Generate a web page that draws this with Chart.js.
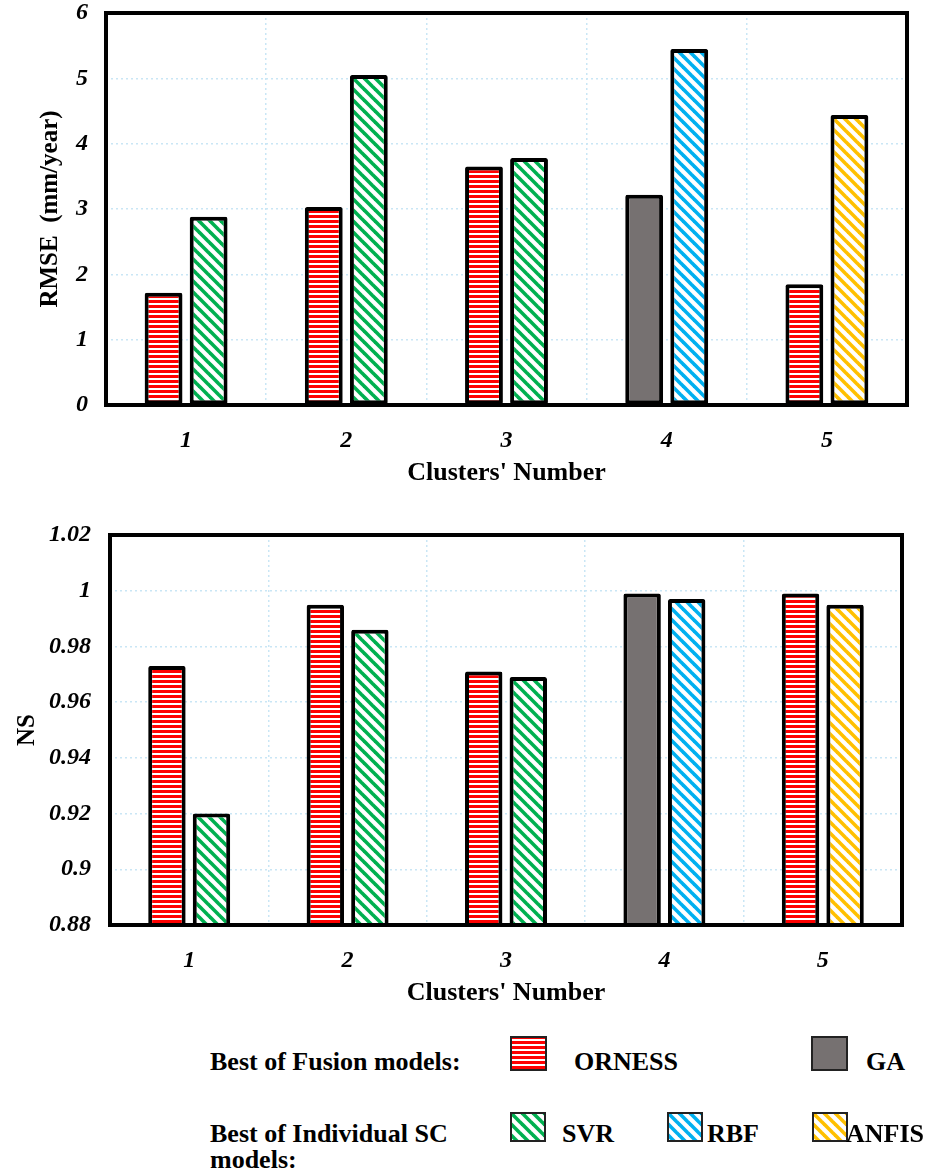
<!DOCTYPE html>
<html lang="en">
<head>
<meta charset="UTF-8">
<title>RMSE and NS by cluster</title>
<script src="https://cdn.jsdelivr.net/npm/chart.js"></script>
<style>
  body { margin: 0; background: #fff; font-family: "Liberation Serif", "Times New Roman", serif; }
  #page { position: relative; width: 935px; height: 1175px; }
  canvas.chart { position: absolute; left: 0; }
  .lg { position: absolute; font-weight: bold; font-size: 26px; line-height: 26px; color: #000; white-space: nowrap; }
  .sw { position: absolute; }
</style>
</head>
<body>
<div id="page">
  <canvas id="rmseChart" class="chart" width="935" height="490" style="top:0"></canvas>
  <canvas id="nsChart" class="chart" width="935" height="490" style="top:520px"></canvas>

  <div class="lg" style="left:210px;top:1049px">Best of Fusion models:</div>
  <canvas class="sw" id="swORNESS" width="37" height="35" style="left:510px;top:1036px"></canvas>
  <div class="lg" style="left:574px;top:1049px">ORNESS</div>
  <canvas class="sw" id="swGA" width="37" height="35" style="left:811px;top:1036px"></canvas>
  <div class="lg" style="left:866px;top:1049px">GA</div>

  <div class="lg" style="left:210px;top:1121px">Best of Individual SC<br>models:</div>
  <canvas class="sw" id="swSVR" width="36" height="30" style="left:510px;top:1112px"></canvas>
  <div class="lg" style="left:562px;top:1121px">SVR</div>
  <canvas class="sw" id="swRBF" width="36" height="30" style="left:667px;top:1112px"></canvas>
  <div class="lg" style="left:707px;top:1121px">RBF</div>
  <canvas class="sw" id="swANFIS" width="36" height="30" style="left:812px;top:1112px"></canvas>
  <div class="lg" style="left:846px;top:1121px">ANFIS</div>
</div>

<script>
// data
const clusters = ['1', '2', '3', '4', '5'];
const fusionModel = ['ORNESS', 'ORNESS', 'ORNESS', 'GA', 'ORNESS'];
const individualModel = ['SVR', 'SVR', 'SVR', 'RBF', 'ANFIS'];

const rmseFusion = [1.72, 3.03, 3.65, 3.22, 1.85];
const rmseIndividual = [2.88, 5.05, 3.78, 5.45, 4.44];
const rmseTicks = ['0', '1', '2', '3', '4', '5', '6'];

const nsFusion = [0.973, 0.995, 0.971, 0.999, 0.999];
const nsIndividual = [0.920, 0.986, 0.969, 0.997, 0.995];
const nsTicks = ['0.88', '0.9', '0.92', '0.94', '0.96', '0.98', '1', '1.02'];

const colors = { ORNESS: '#ff0000', GA: '#767171', SVR: '#00b050', RBF: '#00b0f0', ANFIS: '#ffc000' };
const serif = '"Liberation Serif", "Times New Roman", serif';
const gridColor = '#c9e6f5';

function hStripes(ctx, color) {
    const t = document.createElement('canvas');
    t.width = 8; t.height = 5;
    const g = t.getContext('2d');
    g.fillStyle = '#fff'; g.fillRect(0, 0, 8, 5);
    g.fillStyle = color; g.fillRect(0, 0, 8, 3);
    return ctx.createPattern(t, 'repeat');
}

function dStripes(ctx, color) {
    const s = 11;
    const t = document.createElement('canvas');
    t.width = s; t.height = s;
    const g = t.getContext('2d');
    g.fillStyle = '#fff'; g.fillRect(0, 0, s, s);
    g.strokeStyle = color; g.lineWidth = 3.6;
    for (let k = -1; k <= 1; k++) {
        g.beginPath();
        g.moveTo(k * s - 2, -2);
        g.lineTo(k * s + s + 2, s + 2);
        g.stroke();
    }
    return ctx.createPattern(t, 'repeat');
}

function fillFor(ctx, model) {
    if (model === 'ORNESS') return hStripes(ctx, colors.ORNESS);
    if (model === 'GA') return colors.GA;
    return dStripes(ctx, colors[model]);
}

const frame = {
    id: 'frame',
    afterDraw(chart) {
        const { ctx, chartArea: a } = chart;
        ctx.save();
        ctx.lineWidth = 4;
        ctx.strokeStyle = '#000';
        ctx.strokeRect(a.left, a.top, a.right - a.left, a.bottom - a.top);
        ctx.restore();
    }
};

function makeChart(id, o) {
    const ctx = document.getElementById(id).getContext('2d');
    const barStyle = { borderColor: '#000', borderWidth: 4, borderSkipped: false, borderRadius: 2,
                       categoryPercentage: 0.5625, barPercentage: 0.84 };
    return new Chart(ctx, {
        type: 'bar',
        data: {
            labels: clusters,
            datasets: [
                Object.assign({ label: 'Best of Fusion models', data: o.fusion,
                    backgroundColor: fusionModel.map(m => fillFor(ctx, m)) }, barStyle),
                Object.assign({ label: 'Best of Individual SC models', data: o.individual,
                    backgroundColor: individualModel.map(m => fillFor(ctx, m)) }, barStyle)
            ]
        },
        options: {
            responsive: false,
            animation: false,
            layout: { padding: { left: 0, top: o.top, right: o.right, bottom: 0 } },
            plugins: { legend: { display: false }, tooltip: { enabled: false } },
            scales: {
                x: {
                    grid: { offset: true, drawTicks: false, color: gridColor, lineWidth: 1.5 },
                    border: { display: false, dash: [2, 3] },
                    ticks: { color: '#000', padding: 21,
                             font: { family: serif, size: 24, weight: 'bold', style: 'italic' } },
                    title: { display: true, text: "Clusters' Number", color: '#000',
                             padding: { top: 0, bottom: 1 },
                             font: { family: serif, size: 26, weight: 'bold' } },
                    afterFit(scale) { scale.height = 85; }
                },
                y: {
                    min: o.min, max: o.max,
                    grid: { drawTicks: false, color: gridColor, lineWidth: 1.5 },
                    border: { display: false, dash: [2, 3] },
                    ticks: { stepSize: o.step, color: '#000', padding: o.tickPad,
                             callback: (v, i) => o.ticks[i],
                             font: { family: serif, size: 24, weight: 'bold', style: 'italic' } },
                    title: { display: true, text: o.title, color: '#000',
                             padding: { top: o.titlePad, bottom: 0 },
                             font: { family: serif, size: 25, weight: 'bold' } },
                    afterFit(scale) {
                        scale.width = o.axisWidth;
                        scale.paddingTop = 0;
                        scale.paddingBottom = 0;
                    }
                }
            }
        },
        plugins: [frame]
    });
}

makeChart('rmseChart', {
    fusion: rmseFusion, individual: rmseIndividual,
    min: 0, max: 6, step: 1, ticks: rmseTicks,
    title: 'RMSE  (mm/year)', titlePad: 36, tickPad: 18,
    axisWidth: 106, top: 13, right: 28
});

makeChart('nsChart', {
    fusion: nsFusion, individual: nsIndividual,
    min: 0.88, max: 1.02, step: 0.02, ticks: nsTicks,
    title: 'NS', titlePad: 13, tickPad: 19,
    axisWidth: 110, top: 15, right: 33
});

// legend swatches
['ORNESS', 'GA', 'SVR', 'RBF', 'ANFIS'].forEach(m => {
    const c = document.getElementById('sw' + m);
    const g = c.getContext('2d');
    g.fillStyle = fillFor(g, m);
    g.fillRect(0, 0, c.width, c.height);
    g.lineWidth = 2;
    g.strokeStyle = '#222';
    g.strokeRect(1, 1, c.width - 2, c.height - 2);
});
</script>
</body>
</html>
